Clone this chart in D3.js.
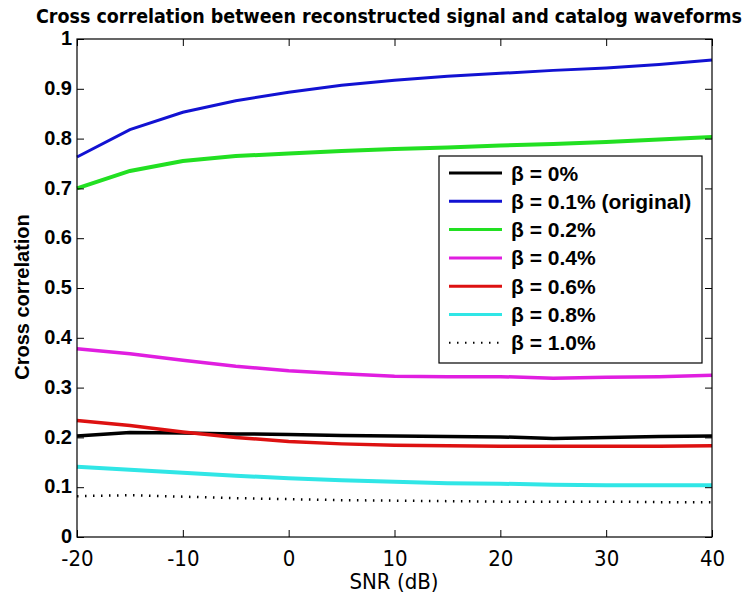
<!DOCTYPE html>
<html>
<head>
<meta charset="utf-8">
<script src="https://cdn.jsdelivr.net/npm/d3@7"></script>
<style>
  body { margin: 0; background: #fff; }
  svg { display: block; }
  .cond { font-family: "DejaVu Sans Condensed", "DejaVu Sans", sans-serif; }
  .helv { font-family: "Liberation Sans", Arial, sans-serif; font-weight: bold; }
</style>
</head>
<body>
<svg width="754" height="594"></svg>
<script>
// SNR sample points (dB)
const snr = [-20, -15, -10, -5, 0, 5, 10, 15, 20, 25, 30, 35, 40];

// cross correlation per beta
const beta0   = [0.203, 0.210, 0.209, 0.207, 0.206, 0.204, 0.203, 0.202, 0.201, 0.198, 0.200, 0.202, 0.203];
const beta01  = [0.763, 0.818, 0.853, 0.876, 0.893, 0.907, 0.917, 0.925, 0.931, 0.937, 0.942, 0.949, 0.958];
const beta02  = [0.700, 0.735, 0.755, 0.765, 0.770, 0.775, 0.779, 0.782, 0.786, 0.789, 0.793, 0.798, 0.803];
const beta04  = [0.378, 0.368, 0.355, 0.343, 0.334, 0.328, 0.323, 0.322, 0.322, 0.319, 0.321, 0.322, 0.325];
const beta06  = [0.234, 0.224, 0.211, 0.200, 0.192, 0.187, 0.184, 0.183, 0.182, 0.182, 0.182, 0.182, 0.183];
const beta08  = [0.141, 0.135, 0.129, 0.123, 0.118, 0.114, 0.111, 0.108, 0.107, 0.105, 0.104, 0.104, 0.104];
const beta10  = [0.082, 0.084, 0.081, 0.078, 0.076, 0.074, 0.073, 0.072, 0.071, 0.071, 0.071, 0.070, 0.070];

const legendLabels = ['β = 0%', 'β = 0.1% (original)', 'β = 0.2%', 'β = 0.4%', 'β = 0.6%', 'β = 0.8%', 'β = 1.0%'];
const xTicks = [-20, -10, 0, 10, 20, 30, 40];
const yTicks = [0, 0.1, 0.2, 0.3, 0.4, 0.5, 0.6, 0.7, 0.8, 0.9, 1];

const series = [
  { values: beta0,  color: '#000000', width: 3.5 },
  { values: beta01, color: '#1212d2', width: 3 },
  { values: beta02, color: '#22e022', width: 4 },
  { values: beta04, color: '#e01ee0', width: 3.5 },
  { values: beta06, color: '#dd1111', width: 3.5 },
  { values: beta08, color: '#30e6e6', width: 4 },
  { values: beta10, color: '#000000', width: 2.5, dash: '1.5,6.5' }
];

const svg = d3.select('svg');
const mLeft = 77, mRight = 712, mTop = 39, mBottom = 537;

const x = d3.scaleLinear().domain([-20, 40]).range([mLeft, mRight]);
const y = d3.scaleLinear().domain([0, 1]).range([mBottom, mTop]);

const line = d3.line()
  .x((d, i) => x(snr[i]))
  .y(d => y(d));

// plot lines
const plot = svg.append('g');
series.forEach(s => {
  plot.append('path')
    .datum(s.values)
    .attr('fill', 'none')
    .attr('stroke', s.color)
    .attr('stroke-width', s.width)
    .attr('stroke-dasharray', s.dash || null)
    .attr('d', line);
});

// axes: ticks point inward, mirrored on top and right
const tick = 7;
const xAxis = svg.append('g')
  .attr('transform', `translate(0,${mBottom})`)
  .call(d3.axisBottom(x).tickValues(xTicks).tickSizeInner(-tick).tickSizeOuter(0).tickPadding(13)
    .tickFormat(d => String(d)));
const xTop = svg.append('g')
  .attr('transform', `translate(0,${mTop})`)
  .call(d3.axisTop(x).tickValues(xTicks).tickSizeInner(-tick).tickSizeOuter(0).tickFormat(''));
const yAxis = svg.append('g')
  .attr('transform', `translate(${mLeft},0)`)
  .call(d3.axisLeft(y).tickValues(yTicks).tickSizeInner(-tick).tickSizeOuter(0).tickPadding(5)
    .tickFormat(d => String(d)));
const yRight = svg.append('g')
  .attr('transform', `translate(${mRight},0)`)
  .call(d3.axisRight(y).tickValues(yTicks).tickSizeInner(-tick).tickSizeOuter(0).tickFormat(''));

[xAxis, xTop, yAxis, yRight].forEach(g => {
  g.select('.domain').remove();
  g.selectAll('line').attr('stroke', '#000').attr('stroke-width', 1);
});

svg.append('rect')
  .attr('x', mLeft).attr('y', mTop)
  .attr('width', mRight - mLeft).attr('height', mBottom - mTop)
  .attr('fill', 'none').attr('stroke', '#000').attr('stroke-width', 1.2);

xAxis.selectAll('text')
  .attr('class', 'cond')
  .attr('font-size', 22)
  .attr('fill', '#000');

yAxis.selectAll('text')
  .attr('class', 'helv')
  .attr('font-size', 20)
  .attr('dy', '0.28em')
  .attr('fill', '#000');

// titles
svg.append('text')
  .attr('class', 'cond')
  .attr('x', 389).attr('y', 23)
  .attr('text-anchor', 'middle')
  .attr('font-size', 19)
  .attr('font-weight', 'bold')
  .attr('textLength', 706)
  .attr('lengthAdjust', 'spacingAndGlyphs')
  .text('Cross correlation between reconstructed signal and catalog waveforms');

svg.append('text')
  .attr('class', 'cond')
  .attr('x', 394).attr('y', 589)
  .attr('text-anchor', 'middle')
  .attr('font-size', 22)
  .text('SNR (dB)');

svg.append('text')
  .attr('class', 'helv')
  .attr('transform', 'translate(29,297) rotate(-90)')
  .attr('text-anchor', 'middle')
  .attr('font-size', 20)
  .text('Cross correlation');

// legend
const legend = svg.append('g').attr('transform', 'translate(439,156)');
legend.append('rect')
  .attr('width', 263).attr('height', 207)
  .attr('fill', '#fff').attr('stroke', '#000').attr('stroke-width', 1.2);

const rows = legend.selectAll('g.row')
  .data(series)
  .enter()
  .append('g')
  .attr('class', 'row')
  .attr('transform', (d, i) => `translate(0,${17 + i * 28.3})`);

rows.append('line')
  .attr('x1', 10).attr('x2', 63)
  .attr('stroke', d => d.color)
  .attr('stroke-width', d => d.dash ? 2 : 3)
  .attr('stroke-dasharray', d => d.dash || null);

rows.append('text')
  .attr('class', 'helv')
  .attr('x', 72)
  .attr('dy', '0.36em')
  .attr('font-size', 21)
  .text((d, i) => legendLabels[i]);
</script>
</body>
</html>
